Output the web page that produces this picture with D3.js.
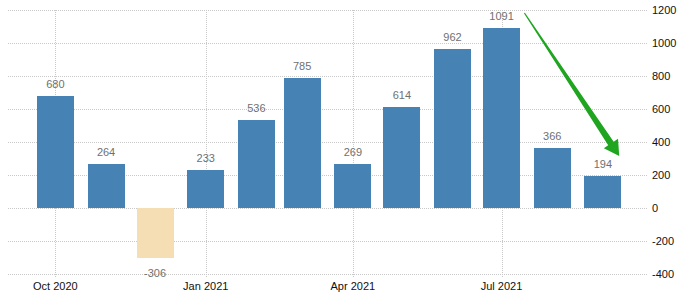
<!DOCTYPE html>
<html>
<head>
<meta charset="utf-8">
<script src="https://cdn.jsdelivr.net/npm/d3@7"></script>
<style>
  html, body { margin: 0; padding: 0; background: #fff; }
  svg { display: block; }
</style>
</head>
<body>
<figure id="chart" style="margin:0"></figure>
<script>
// chart data
const months = ['2020-10-01', '2020-11-01', '2020-12-01', '2021-01-01', '2021-02-01', '2021-03-01',
  '2021-04-01', '2021-05-01', '2021-06-01', '2021-07-01', '2021-08-01', '2021-09-01'];
const values = [680, 264, -306, 233, 536, 785, 269, 614, 962, 1091, 366, 194];
const xTickDates = ['2020-10-01', '2021-01-01', '2021-04-01', '2021-07-01'];
const xTickLabels = ['Oct 2020', 'Jan 2021', 'Apr 2021', 'Jul 2021'];
const yTicks = [-400, -200, 0, 200, 400, 600, 800, 1000, 1200];
// trend arrow annotation: [date, value] for start and tip
const arrowFrom = ['2021-07-15', 1182];
const arrowTo = ['2021-09-11', 315];

const width = 697;
const height = 303;
const margin = {top: 10, right: 50, bottom: 29, left: 8};
const barWidth = 37;

const parse = d3.utcParse('%Y-%m-%d');
const data = months.map((m, i) => ({date: parse(m), value: values[i]}));

const svg = d3.select('figure#chart')
  .append('svg')
  .attr('width', width)
  .attr('height', height)
  .attr('font-family', '"Liberation Sans", Arial, sans-serif');

const x = d3.scaleUtc()
  .domain([parse('2020-09-02'), parse('2021-09-28')])
  .range([margin.left, width - margin.right]);

const y = d3.scaleLinear()
  .domain([-400, 1200])
  .range([height - margin.bottom, margin.top]);

// horizontal grid
svg.append('g')
  .selectAll('line')
  .data(yTicks)
  .join('line')
  .attr('x1', margin.left)
  .attr('x2', width - margin.right)
  .attr('y1', d => Math.round(y(d)) + 0.5)
  .attr('y2', d => Math.round(y(d)) + 0.5)
  .attr('stroke', '#c8c8c8')
  .attr('stroke-dasharray', '1,1');

// vertical grid
svg.append('g')
  .selectAll('line')
  .data(xTickDates)
  .join('line')
  .attr('x1', d => Math.round(x(parse(d))) + 0.5)
  .attr('x2', d => Math.round(x(parse(d))) + 0.5)
  .attr('y1', margin.top)
  .attr('y2', height - margin.bottom + 4)
  .attr('stroke', '#c8c8c8')
  .attr('stroke-dasharray', '1,1');

// bars
svg.append('g')
  .selectAll('rect')
  .data(data)
  .join('rect')
  .attr('x', d => Math.round(x(d.date) - barWidth / 2))
  .attr('width', barWidth)
  .attr('y', d => Math.round(y(Math.max(0, d.value))))
  .attr('height', d => Math.round(Math.abs(y(d.value) - y(0))))
  .attr('fill', d => d.value < 0 ? '#f5deb3' : '#4682b4');

// value labels
svg.append('g')
  .attr('font-size', 11)
  .attr('fill', '#707070')
  .attr('text-anchor', 'middle')
  .selectAll('text')
  .data(data)
  .join('text')
  .attr('x', d => x(d.date))
  .attr('y', d => d.value < 0 ? y(d.value) + 19 : y(d.value) - 8)
  .text(d => d.value);

// x axis labels
svg.append('g')
  .attr('font-size', 11)
  .attr('fill', '#111')
  .attr('text-anchor', 'middle')
  .selectAll('text')
  .data(xTickDates)
  .join('text')
  .attr('x', d => x(parse(d)))
  .attr('y', height - 13)
  .text((d, i) => xTickLabels[i]);

// y axis labels
svg.append('g')
  .attr('font-size', 11)
  .attr('fill', '#111')
  .selectAll('text')
  .data(yTicks)
  .join('text')
  .attr('x', width - margin.right + 5)
  .attr('y', d => y(d))
  .attr('dy', '0.35em')
  .text(d => d);

// green trend arrow
const x0 = x(parse(arrowFrom[0])), y0 = y(arrowFrom[1]);
const x1 = x(parse(arrowTo[0])), y1 = y(arrowTo[1]);
const len = Math.hypot(x1 - x0, y1 - y0);
const ux = (x1 - x0) / len, uy = (y1 - y0) / len;
const nx = -uy, ny = ux;
const headLen = 15, headHalf = 8.5, shaftEnd = 3.3, shaftStart = 0.6;
const bx = x1 - ux * headLen, by = y1 - uy * headLen;
const pts = [
  [x0 + nx * shaftStart, y0 + ny * shaftStart],
  [bx + nx * shaftEnd, by + ny * shaftEnd],
  [bx + nx * headHalf, by + ny * headHalf],
  [x1, y1],
  [bx - nx * headHalf, by - ny * headHalf],
  [bx - nx * shaftEnd, by - ny * shaftEnd],
  [x0 - nx * shaftStart, y0 - ny * shaftStart]
];
svg.append('path')
  .attr('d', d3.line()(pts) + 'Z')
  .attr('fill', '#1fa51f');
</script>
</body>
</html>
